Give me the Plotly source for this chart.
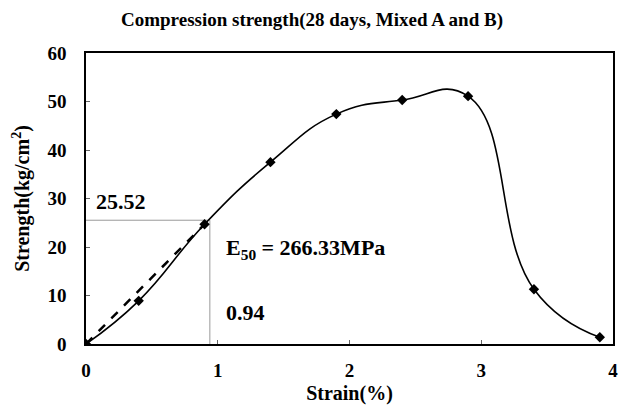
import plotly.graph_objects as go

# Data
strain = [0.0, 0.40, 0.90, 1.40, 1.90, 2.40, 2.90, 3.40, 3.90]
strength = [0.0, 8.9, 24.7, 37.5, 47.4, 50.3, 51.1, 11.3, 1.4]

secant_x = [0.0, 0.90]
secant_y = [0.0, 24.7]

e50_strain = 0.94
e50_stress = 25.52
e50_label = "E<sub>50</sub> = 266.33MPa"

title_text = "Compression strength(28 days, Mixed A and B)"
x_title = "Strain(%)"
y_title = "Strength(kg/cm<sup>2</sup>)"

FONT = "Liberation Serif, Times New Roman, serif"

fig = go.Figure()

# reference guide lines (thin gray)
fig.add_trace(go.Scatter(x=[0, e50_strain, e50_strain], y=[e50_stress, e50_stress, 0],
                         mode="lines", line=dict(color="#999999", width=1),
                         hoverinfo="skip", showlegend=False))

# secant (dashed)
fig.add_trace(go.Scatter(x=secant_x, y=secant_y, mode="lines",
                         line=dict(color="black", width=2.5, dash="dash"),
                         showlegend=False))

# main curve
fig.add_trace(go.Scatter(x=strain, y=strength, mode="lines+markers",
                         line=dict(color="black", width=1.6, shape="spline", smoothing=1.3),
                         marker=dict(symbol="diamond", size=8, color="black"),
                         showlegend=False))

ann_font = dict(family=FONT, size=22, color="black", weight="bold")
fig.add_annotation(x=0.06, y=29.3, text="25.52", showarrow=False, xanchor="left",
                   yanchor="middle", font=ann_font)
fig.add_annotation(x=1.05, y=19.6, text=e50_label, showarrow=False, xanchor="left",
                   yanchor="middle", font=ann_font)
fig.add_annotation(x=1.05, y=6.4, text=str(e50_strain), showarrow=False, xanchor="left",
                   yanchor="middle", font=ann_font)

fig.update_layout(
    width=624, height=409,
    margin=dict(l=86, r=11, t=53, b=65, autoexpand=False),
    paper_bgcolor="white", plot_bgcolor="white",
    font=dict(family=FONT, size=18, color="black", weight="bold"),
    title=dict(text=title_text, x=0.5, xref="container", xanchor="center",
               y=1 - 19 / 409, yref="container", yanchor="middle",
               font=dict(family=FONT, size=19, weight="bold")),
)

fig.update_xaxes(range=[0, 4], dtick=1, tick0=0, showgrid=False, zeroline=False,
                 showline=True, linecolor="black", linewidth=1.5, mirror=True,
                 ticks="inside", ticklen=4, tickcolor="#666666", ticklabelstandoff=8,
                 automargin=False,
                 tickfont=dict(family=FONT, size=19, weight="bold"),
                 title=dict(text=x_title, standoff=6, font=dict(family=FONT, size=20, weight="bold")))
fig.update_yaxes(range=[0, 60], dtick=10, tick0=0, showgrid=False, zeroline=False,
                 showline=True, linecolor="black", linewidth=1.5, mirror=True,
                 ticks="inside", ticklen=4, tickcolor="#666666", ticklabelstandoff=14,
                 automargin=False,
                 tickfont=dict(family=FONT, size=19, weight="bold"),
                 title=dict(text=y_title, standoff=12, font=dict(family=FONT, size=20, weight="bold")))

fig.write_html("out.html")
